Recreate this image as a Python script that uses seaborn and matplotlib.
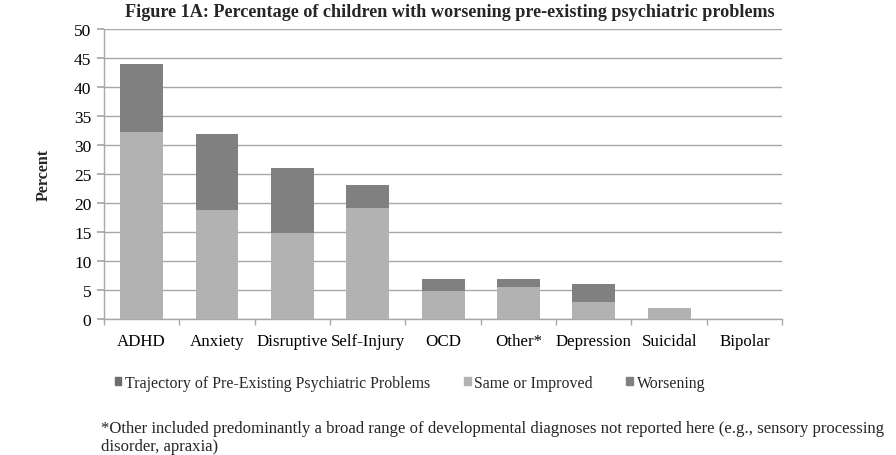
import matplotlib
matplotlib.use("Agg")
import matplotlib.pyplot as plt
from matplotlib.patches import Patch
import seaborn as sns
import pandas as pd

# Diagnoses and the two stacked components (percent of children)
categories = ["ADHD", "Anxiety", "Disruptive", "Self-Injury", "OCD",
              "Other*", "Depression", "Suicidal", "Bipolar"]
same_or_improved = [32.2, 18.8, 14.8, 19.1, 4.8, 5.5, 3.0, 2.0, 0.0]
worsening = [11.8, 13.2, 11.2, 4.0, 2.2, 1.5, 3.0, 0.0, 0.0]
y_ticks = [0, 5, 10, 15, 20, 25, 30, 35, 40, 45, 50]

title = "Figure 1A: Percentage of children with worsening pre-existing psychiatric problems"
legend_labels = ["Trajectory of Pre-Existing Psychiatric Problems",
                 "Same or Improved", "Worsening"]
footnote = ("*Other included predominantly a broad range of developmental diagnoses "
            "not reported here (e.g., sensory processing\ndisorder, apraxia)")

df = pd.DataFrame({
    "category": categories,
    "same": same_or_improved,
    "worse": worsening,
})
df["total"] = df["same"] + df["worse"]

light = "#b2b2b2"
dark = "#808080"
header_col = "#6e6e6e"
axis_col = "#a8a8a8"

sns.set_theme(style="white")
plt.rcParams["font.family"] = ["Liberation Serif", "DejaVu Serif"]

fig = plt.figure(figsize=(8.96, 4.56), dpi=100)
ax = fig.add_axes([0.116, 0.298, 0.757, 0.636])

# stacked bars: full height in the darker tone, lower part overdrawn in light grey
sns.barplot(data=df, x="category", y="total", color=dark, width=0.57,
            saturation=1, ax=ax, zorder=3, linewidth=0)
sns.barplot(data=df, x="category", y="same", color=light, width=0.57,
            saturation=1, ax=ax, zorder=4, linewidth=0)

ax.set_ylim(0, 50)
ax.set_xlim(-0.5, len(categories) - 0.5)
ax.set_yticks(y_ticks)
ax.yaxis.grid(True, color=axis_col, linewidth=1.0, zorder=0)
ax.set_axisbelow(True)

for side in ["top", "right"]:
    ax.spines[side].set_visible(False)
for side in ["left", "bottom"]:
    ax.spines[side].set_color(axis_col)
    ax.spines[side].set_linewidth(1.0)

# category boundary tick marks along the x axis
ax.set_xticks([i - 0.5 for i in range(len(categories) + 1)], minor=True)
ax.tick_params(axis="x", which="minor", length=4, color=axis_col, direction="out", bottom=True)
ax.tick_params(axis="x", which="major", length=0, labelsize=12.2, pad=10, colors="black")
ax.tick_params(axis="y", which="major", length=5, color=axis_col, direction="out",
               left=True, labelsize=12.5, pad=4, colors="black")

ax.set_xlabel("")
ax.set_ylabel("Percent", fontsize=11.5, fontweight="bold", labelpad=16)

fig.text(0.502, 0.972, title, ha="center", va="center", fontsize=13.1, fontweight="bold")

handles = [Patch(color=header_col), Patch(color=light), Patch(color=dark)]
fig.legend(handles, legend_labels, loc="center left", bbox_to_anchor=(0.121, 0.158),
           ncol=3, frameon=False, fontsize=11.4, handlelength=0.42, handleheight=0.42,
           handletextpad=0.25, columnspacing=2.1, borderaxespad=0)

fig.text(0.113, 0.04, footnote, ha="left", va="center", fontsize=12.1, linespacing=1.2)

fig.savefig("out.png", dpi=100)
